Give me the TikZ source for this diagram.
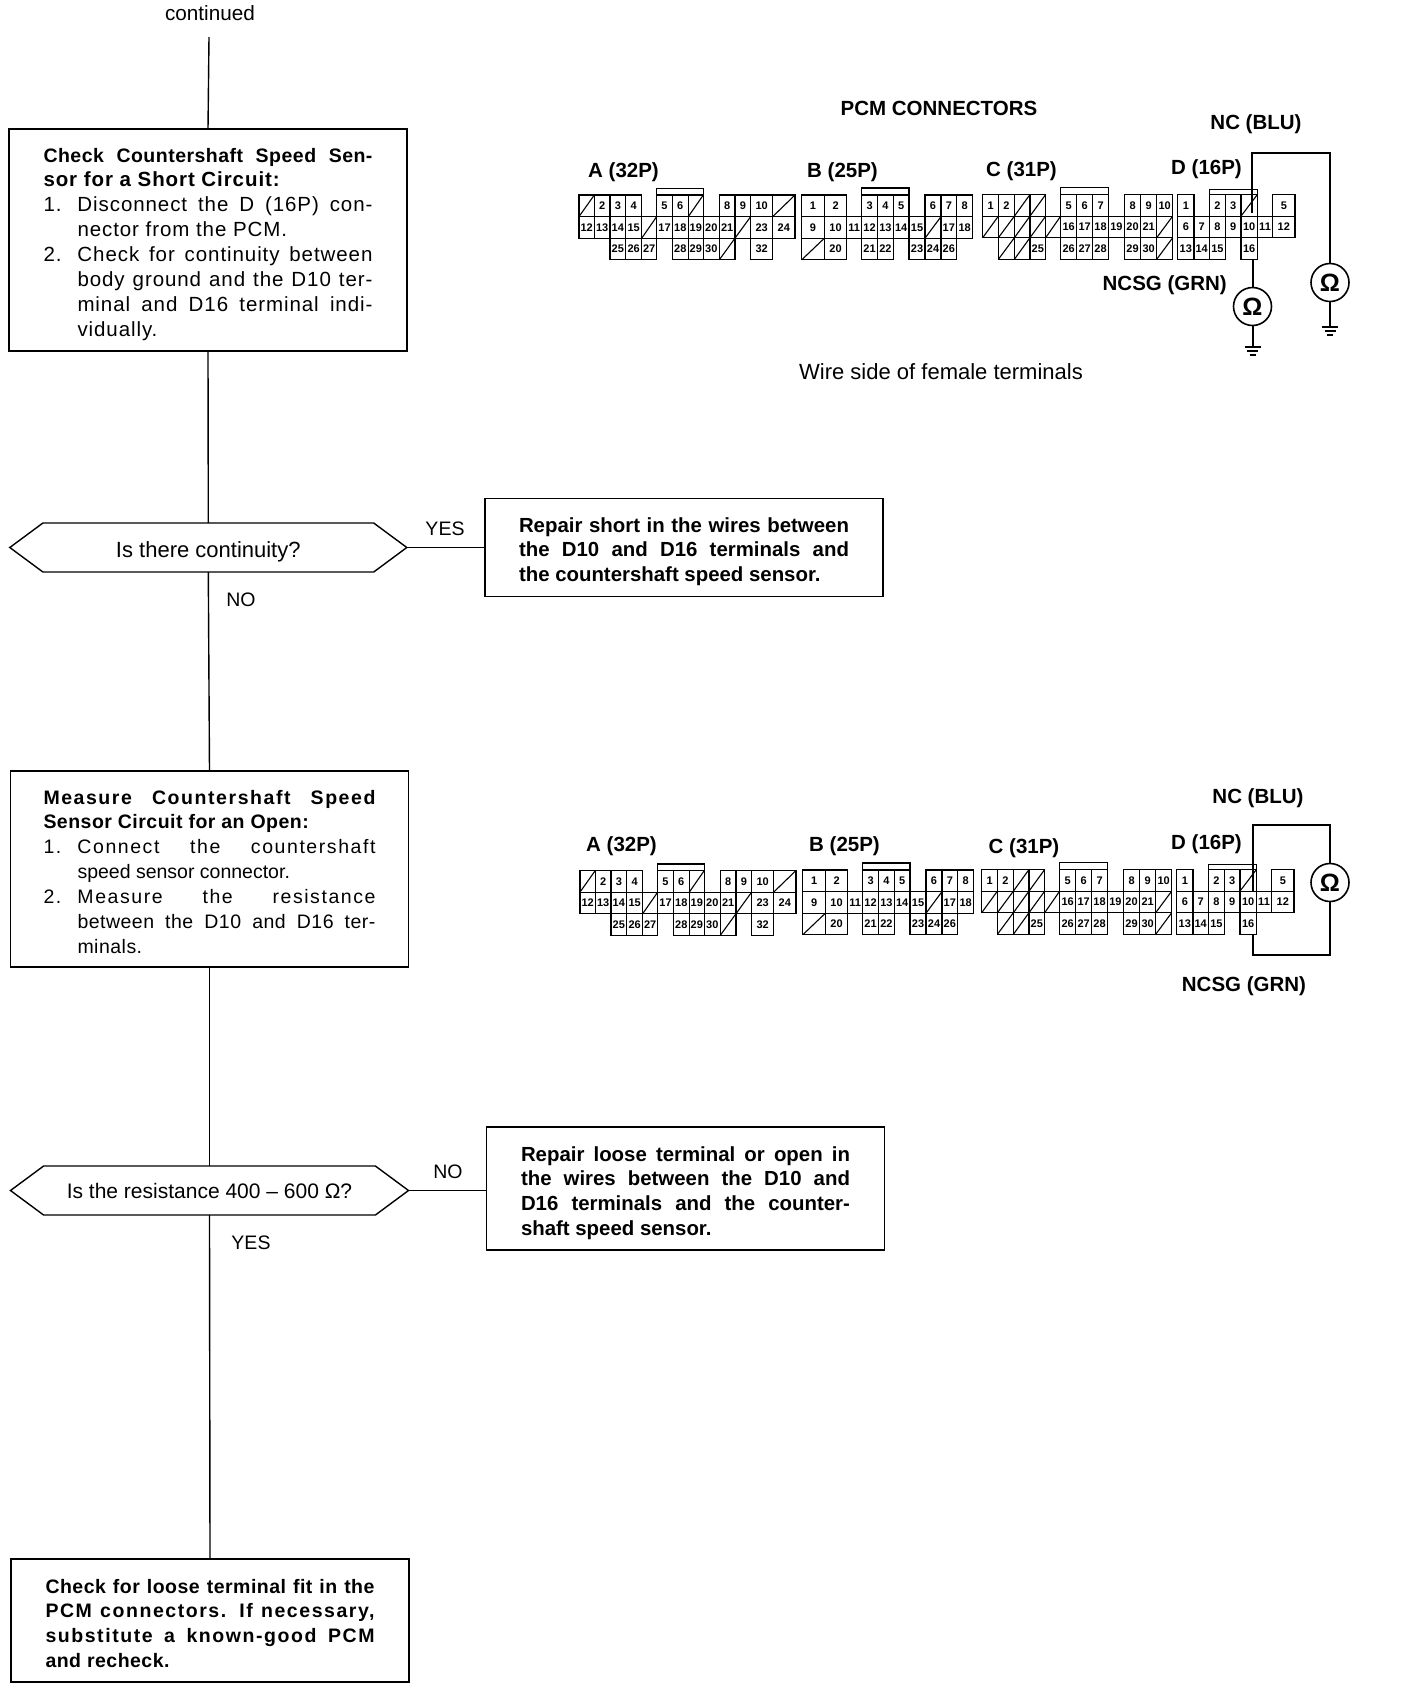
\documentclass[tikz,border=0pt]{standalone}
\usepackage{fontspec}
\setmainfont{Liberation Sans}
\newfontfamily\spaced{Liberation Sans}[LetterSpace=2.5]
\newfontfamily\spacedmid{Liberation Sans}[LetterSpace=4.5]
\newfontfamily\spacedwide{Liberation Sans}[LetterSpace=8]
\usetikzlibrary{shapes.symbols}
\newcount\cellno
\newcommand{\TB}[3]{\raisebox{#2pt}[0pt][0pt]{\vtop{\hsize=#1pt \baselineskip=24.9pt \lineskiplimit=-100pt \parindent=0pt #3}}}
\newcommand{\lnJ}[1]{\hbox to \hsize{#1}}
\newcommand{\lnN}[1]{\hbox to \hsize{#1\hfil}}
\newcommand{\lnHJ}[2]{\hbox to \hsize{\hbox to 34pt{#1\hfil}#2}}
\newcommand{\lnHN}[2]{\hbox to \hsize{\hbox to 34pt{#1\hfil}#2\hfil}}
\newcommand{\lowered}[2]{\raisebox{-#1pt}[0pt][0pt]{#2}}
\def\slashx{x}
% one terminal row of a connector: x0/x1/row/label, x = crossed-out blank
\newcommand{\cells}[1]{%
  \foreach \xa/\xb/\rw/\lab in {#1}{%
    \global\advance\cellno by 1
    \pgfmathsetmacro{\cw}{\xb-\xa}%
    \pgfmathsetmacro{\cx}{(\xa+\xb)/2}%
    \pgfmathsetmacro{\cy}{(\rw+0.5)*21.6}%
    \ifx\lab\slashx
      \node[termcell,minimum width=\cw pt] (cell\the\cellno) at (\cx,\cy) {};
      \draw[termline] (cell\the\cellno.south west) -- (cell\the\cellno.north east);
    \else
      \node[termcell,minimum width=\cw pt] (cell\the\cellno) at (\cx,\cy) {\lab};
    \fi
  }}
\newcommand{\connA}{%
  \cells{0/15.3/0/x,15.3/31/0/2,31/46.7/0/3,46.7/62.7/0/4,77.7/93.3/0/5,93.3/109.3/0/6,109.3/124.3/0/x,140.3/156/0/8,156/171.7/0/9,171.7/193.7/0/10,193.7/216/0/x,
  0/15.3/1/12,15.3/31/1/13,31/46.7/1/14,46.7/62.7/1/15,62.7/77.7/1/x,77.7/93.3/1/17,93.3/109.3/1/18,109.3/124.3/1/19,124.3/140.3/1/20,140.3/156/1/21,156/171.7/1/x,171.7/193.7/1/23,193.7/216/1/24,
  31/46.7/2/25,46.7/62.7/2/26,62.7/77.7/2/27,93.3/109.3/2/28,109.3/124.3/2/29,124.3/140.3/2/30,140.3/156/2/x,171.7/193.7/2/32}
  \draw[termline] (77.7,0) -- (77.7,-6.5) -- (124.3,-6.5) -- (124.3,0);}
\newcommand{\connB}{%
  \cells{0/22.7/0/1,22.7/45/0/2,60/75.7/0/3,75.7/91.7/0/4,91.7/107.3/0/5,123.3/139.3/0/6,139.3/155/0/7,155/171/0/8,
  0/22.7/1/9,22.7/45/1/10,45/60/1/11,60/75.7/1/12,75.7/91.7/1/13,91.7/107.3/1/14,107.3/123.3/1/15,123.3/139.3/1/x,139.3/155/1/17,155/171/1/18,
  0/22.7/2/x,22.7/45/2/20,60/75.7/2/21,75.7/91.7/2/22,107.3/123.3/2/23,123.3/139.3/2/24,139.3/155/2/26}
  \draw[termline] (60,0) -- (60,-7) -- (107.3,-7) -- (107.3,0);}
\newcommand{\connC}{%
  \cells{0/15.7/0/1,15.7/31.7/0/2,31.7/47.3/0/x,47.3/63/0/x,78/94/0/5,94/110/0/6,110/125.7/0/7,141.7/158/0/8,158/174/0/9,174/190/0/10,
  0/15.7/1/x,15.7/31.7/1/x,31.7/47.3/1/x,47.3/63/1/x,63/78/1/x,78/94/1/16,94/110/1/17,110/125.7/1/18,125.7/141.7/1/19,141.7/158/1/20,158/174/1/21,174/190/1/x,
  15.7/31.7/2/x,31.7/47.3/2/x,47.3/63/2/25,78/94/2/26,94/110/2/27,110/125.7/2/28,141.7/158/2/29,158/174/2/30,174/190/2/x}
  \draw[termline] (78,0) -- (78,-7) -- (125.7,-7) -- (125.7,0);}
\newcommand{\connD}{%
  \cells{0/16.3/0/1,31.7/47.7/0/2,47.7/63.3/0/3,63.3/79.7/0/x,95/117.3/0/5,
  0/16.3/1/6,16.3/31.7/1/7,31.7/47.7/1/8,47.7/63.3/1/9,63.3/79.7/1/10,79.7/95/1/11,95/117.3/1/12,
  0/16.3/2/13,16.3/31.7/2/14,31.7/47.7/2/15,63.3/79.7/2/16}
  \draw[termline] (31.7,0) -- (31.7,-5) -- (79.7,-5) -- (79.7,0);}
\tikzset{
  flowbox/.style={draw,line width=1.5pt,rectangle,inner sep=0pt,outer sep=0pt,font=\fontsize{19.5}{24.9}\selectfont},
  repairbox/.style={flowbox,font=\fontsize{20.4}{24.9}\selectfont},
  decision/.style={draw,line width=1.4pt,signal,signal to=west and east,signal pointer angle=73,inner sep=0pt,outer sep=0pt},
  flowline/.style={line width=1.4pt},
  plain/.style={inner sep=0pt,font=\fontsize{19.5}{24}\selectfont},
  head/.style={inner sep=0pt,font=\fontsize{20.5}{24}\selectfont\bfseries},
  termcell/.style={draw,line width=1.1pt,rectangle,inner sep=0pt,outer sep=0pt,minimum height=21.6pt,font=\fontsize{11}{12}\selectfont\bfseries},
  termline/.style={line width=1.1pt},
  wire/.style={line width=2pt},
  meter/.style={draw,circle,line width=1.6pt,fill=white,inner sep=0pt,outer sep=0pt,minimum size=38pt,font=\fontsize{25}{26}\selectfont\bfseries},
  groundbar/.style={line width=1.4pt},
}
\newcommand{\ground}[1]{%
  \draw[groundbar] (#1)++(-8,0) -- ++(16,0);
  \draw[groundbar] (#1)++(-5.5,4) -- ++(11,0);
  \draw[groundbar] (#1)++(-3,8) -- ++(6,0);}
\begin{document}
\begin{tikzpicture}[x=1pt,y=-1pt]
\useasboundingbox (0,0) rectangle (1408,1690);
\fill[white] (0,0) rectangle (1408,1690);

% flow chart
\node[plain,font=\fontsize{20.7}{24}\selectfont] (cont) at (210,13) {continued};
\coordinate (start) at (209,37);
\node[flowbox,font=\fontsize{20.5}{24.9}\selectfont,minimum width=398pt,minimum height=222pt] (b1) at (208,240) {\TB{329}{78}{\spacedmid
  \bfseries{\fontsize{19.5}{24.9}\selectfont\spaced\lnJ{Check Countershaft Speed Sen-}}
  \lnN{sor for a Short Circuit:}
  \normalfont\spacedmid
  \lnHJ{1.}{Disconnect the D (16P) con-}
  \lnHN{}{nector from the PCM.}
  \lnHJ{2.}{Check for continuity between}
  \lnHJ{}{body ground and the D10 ter-}
  \lnHJ{}{minal and D16 terminal indi-}
  \lnHN{}{vidually.}}};
\node[decision,minimum width=397pt,minimum height=49pt,font=\fontsize{22}{24}\selectfont] (h1) at (208.3,547.5) {\lowered{9.5}{Is there continuity?}};
\node[repairbox,minimum width=398pt,minimum height=98pt] (r1) at (684,547.5) {\TB{330}{15.5}{\bfseries
  \lnJ{Repair short in the wires between}
  \lnJ{the D10 and D16 terminals and}
  \lnN{the countershaft speed sensor.}}};
\node[plain] (yes1) at (445,529) {YES};
\node[plain] (no1) at (241,600) {NO};

\node[flowbox,minimum width=398pt,minimum height=196pt] (b2) at (209.5,869) {\TB{332}{65}{\spaced
  \bfseries{\spacedwide\lnJ{Measure Countershaft Speed}}
  \lnN{Sensor Circuit for an Open:}
  \normalfont
  {\spacedwide\lnHJ{1.}{Connect the countershaft}}
  {\normalfont\lnHN{}{speed sensor connector.}}
  {\spacedwide\lnHJ{2.}{Measure the resistance}}
  \spaced
  \lnHJ{}{between the D10 and D16 ter-}
  \lnHN{}{minals.}}};
\node[decision,minimum width=398pt,minimum height=49pt,font=\fontsize{21}{24}\selectfont] (h2) at (209.5,1190.5) {\lowered{7.5}{Is the resistance 400 – 600 Ω?}};
\node[repairbox,minimum width=398pt,minimum height=123pt] (r2) at (685.5,1188.5) {\TB{329}{27.5}{\bfseries
  \lnJ{Repair loose terminal or open in}
  \lnJ{the wires between the D10 and}
  \lnJ{D16 terminals and the counter-}
  \lnN{shaft speed sensor.}}};
\node[plain] (no2) at (448,1172) {NO};
\node[plain] (yes2) at (251,1243) {YES};
\node[flowbox,minimum width=398pt,minimum height=123pt] (b4) at (210,1620.5) {\TB{329}{27.5}{\spaced\bfseries
  \lnJ{Check for loose terminal fit in the}
  {\spacedwide\lnJ{PCM connectors. If necessary,}}
  {\spacedwide\lnJ{substitute a known-good PCM}}
  \lnN{and recheck.}}};

\draw[flowline] (start) -- (b1.north);
\draw[flowline] (b1.south) -- (h1.north);
\draw[flowline] (h1.south) -- (b2.north);
\draw[flowline] (h1.east) -- (h1.east -| r1.west);
\draw[flowline] (b2.south) -- (h2.north);
\draw[flowline] (h2.south) -- (b4.north);
\draw[flowline] (h2.east) -- (h2.east -| r2.west);

% upper connector view
\node[head] (pcm) at (939,108) {PCM CONNECTORS};
\node[head] (nc1) at (1256,124) {NC (BLU)};
\node[head,anchor=west] (la1) at (588,172) {A (32P)};
\node[head,anchor=west] (lb1) at (807,172) {B (25P)};
\node[head,anchor=west] (lc1) at (986,171) {C (31P)};
\node[head,anchor=west] (ld1) at (1171,169.5) {D (16P)};
\begin{scope}[shift={(579,195)}]\connA\end{scope}
\begin{scope}[shift={(801.7,195)}]\connB\end{scope}
\begin{scope}[shift={(982.7,194.5)}]\connC\end{scope}
\begin{scope}[shift={(1177.7,194.5)}]\connD\end{scope}
\node[head,anchor=east] (ncsg1) at (1227,285) {NCSG (GRN)};
\node[plain,font=\fontsize{22}{24}\selectfont] (wireside) at (941,372) {Wire side of female terminals};
\node[meter] (m1) at (1330,282.5) {Ω};
\node[meter] (m2) at (1252.5,306.5) {Ω};
\coordinate (t10) at (1251.5,213);
\coordinate (t16) at (1252.5,259);
\coordinate (g1) at (1330,327);
\coordinate (g2) at (1252.5,347);
\draw[wire] (t10) -- (1251.5,153) -| (m1.north);
\draw[wire] (m1.south) -- (g1);
\draw[wire] (t16) -- (m2.north);
\draw[wire] (m2.south) -- (g2);
\ground{g1}
\ground{g2}

% lower connector view
\node[head] (nc2) at (1258,798) {NC (BLU)};
\node[head,anchor=west] (la2) at (586,846.5) {A (32P)};
\node[head,anchor=west] (lb2) at (809,846) {B (25P)};
\node[head,anchor=west] (lc2) at (988.5,848) {C (31P)};
\node[head,anchor=west] (ld2) at (1171,844) {D (16P)};
\begin{scope}[shift={(580,870.5)}]\connA\end{scope}
\begin{scope}[shift={(802.7,870)}]\connB\end{scope}
\begin{scope}[shift={(981.7,869.5)}]\connC\end{scope}
\begin{scope}[shift={(1176.7,869.5)}]\connD\end{scope}
\node[head] (ncsg2) at (1244,986) {NCSG (GRN)};
\node[meter] (m3) at (1330,882.5) {Ω};
\coordinate (w10) at (1252.7,891);
\coordinate (w16) at (1252.7,934);
\draw[wire] (m3.north) |- (1252.7,825) -- (w10);
\draw[wire] (w16) -- (1252.7,955) -| (m3.south);
\end{tikzpicture}
\end{document}
